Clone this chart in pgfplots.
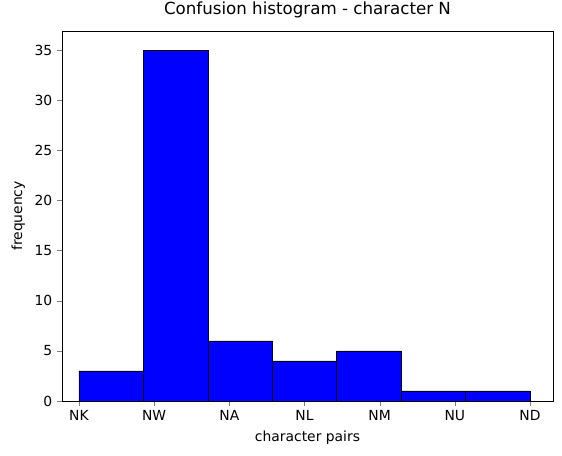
\documentclass[border=0pt]{standalone}
\usepackage{pgfplots}
\pgfplotsset{compat=1.18}
\usepackage{fontspec}
\setmainfont{DejaVu Sans}
\begin{document}
\begin{tikzpicture}
\begin{axis}[
  at={(0,0)}, anchor=south west,
  scale only axis, width=353.5pt, height=266.4pt,
  xmin=-0.226, xmax=6.306, ymin=0, ymax=36.9,
  xtick={0,1,2,3,4,5,6},
  xticklabels={NK,NW,NA,NL,NM,NU,ND},
  ytick={0,5,10,15,20,25,30,35},
  tick align=outside, tick pos=left,
  major tick length=3.5pt,
  /pgf/number format/assume math mode=true,
  ticklabel style={font=\fontsize{10}{12}\selectfont},
  label style={font=\fontsize{10}{12}\selectfont},
  title style={font=\fontsize{12}{14}\selectfont},
  title={Confusion histogram - character N},
  xlabel={character pairs}, ylabel={frequency},
]
\addplot[ybar interval, fill=blue, draw=black] coordinates {
(0,3) (0.857143,35) (1.714286,6) (2.571429,4) (3.428571,5) (4.285714,1) (5.142857,1) (6,1)};
\end{axis}
\pgfresetboundingbox
\path[use as bounding box] (-44.64pt,-38.88pt) rectangle (360pt,288.72pt);
\end{tikzpicture}
\end{document}
